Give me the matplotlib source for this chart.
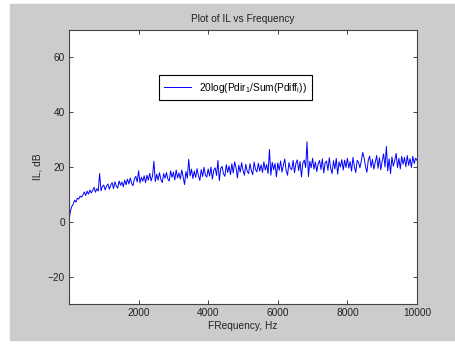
import numpy as np
import matplotlib
matplotlib.use('Agg')
import matplotlib.pyplot as plt
from matplotlib.patches import Rectangle

plt.rcParams['font.family'] = ['Liberation Sans', 'DejaVu Sans']
plt.rcParams['mathtext.fontset'] = 'custom'
plt.rcParams['mathtext.rm'] = 'Liberation Sans'
plt.rcParams['mathtext.it'] = 'Liberation Sans'
plt.rcParams['mathtext.default'] = 'regular'

# frequency grid, Hz (40 Hz step)
freq = np.arange(0, 10001, 40)

# IL values in dB (one row = 400 Hz)
il_db = [
    0.5, 3.8, 5.6, 6.4, 7.9, 7.2, 8.6, 8.3, 9.4, 9.0,
    9.8, 10.9, 9.6, 11.2, 10.1, 11.6, 10.5, 11.4, 12.6, 10.8,
    12.1, 11.2, 17.6, 11.3, 12.9, 13.4, 11.6, 13.1, 13.8, 11.9,
    13.4, 14.3, 12.1, 14.6, 13.0, 12.3, 14.9, 13.3, 14.5, 12.8,
    15.2, 13.5, 15.6, 13.8, 16.0, 14.0, 13.2, 15.7, 16.6, 14.5,
    18.6, 14.2, 16.3, 14.8, 16.8, 14.3, 17.0, 15.2, 17.7, 14.9,
    16.7, 22.1, 14.7, 17.4, 15.2, 17.9, 15.5, 14.3, 17.6, 15.9,
    18.0, 15.6, 14.9, 18.6, 16.2, 18.1, 15.3, 18.9, 16.0, 17.8,
    15.6, 18.9, 16.4, 13.6, 18.3, 15.9, 22.8, 16.7, 19.2, 15.8,
    18.5, 16.2, 19.4, 16.8, 15.1, 19.1, 16.5, 19.9, 17.0, 16.3,
    19.3, 16.7, 20.0, 15.6, 18.8, 19.7, 16.9, 22.4, 15.0, 19.5,
    20.2, 17.5, 16.6, 20.9, 18.0, 20.4, 17.2, 21.2, 17.8, 21.9,
    19.8, 16.0, 20.7, 18.1, 21.6, 18.8, 17.0, 21.0, 18.4, 17.6,
    21.2, 18.7, 17.2, 21.8, 19.1, 18.2, 21.4, 18.5, 20.8, 18.0,
    21.9, 18.9, 20.9, 17.6, 26.4, 17.0, 21.7, 19.0, 21.3, 16.4,
    21.5, 18.8, 22.2, 18.1, 20.7, 22.9, 18.6, 17.0, 21.6, 19.6,
    19.0, 22.4, 17.9, 21.3, 22.6, 18.7, 22.0, 16.4, 21.4, 22.5,
    19.8, 29.2, 16.5, 22.1, 19.7, 23.2, 19.2, 21.8, 18.3, 21.2,
    22.4, 19.1, 23.0, 17.8, 21.5, 22.2, 18.8, 23.4, 19.5, 17.6,
    22.3, 19.3, 23.1, 17.4, 21.9, 20.0, 22.7, 18.9, 22.5, 19.8,
    23.2, 19.6, 22.0, 18.5, 23.5, 20.1, 18.0, 22.4, 21.7, 19.7,
    22.2, 25.3, 23.3, 20.2, 18.1, 22.5, 24.0, 19.9, 22.8, 19.2,
    21.8, 24.2, 19.5, 23.4, 19.0, 22.3, 24.8, 20.0, 27.5, 18.6,
    23.0, 17.6, 23.7, 20.3, 22.4, 25.0, 19.8, 23.2, 19.3, 23.9,
    21.0, 23.5, 20.1, 24.2, 20.6, 23.1, 19.8, 23.9, 21.3, 23.2,
    22.4,
]

xticks = [2000, 4000, 6000, 8000, 10000]
yticks = [-20, 0, 20, 40, 60]

fs = 7.3
fig = plt.figure(figsize=(4.56, 3.45), dpi=100)
fig.patch.set_facecolor('white')
# MATLAB-style grey figure area
fig.add_artist(Rectangle((10 / 456, 5 / 345), 446 / 456, 336 / 345,
                         transform=fig.transFigure, color='#cccccc', zorder=-10))

ax = fig.add_axes([69 / 456, 1 - 304 / 345, 348 / 456, 274 / 345])
ax.set_facecolor('white')
ax.plot(freq, il_db, color='#0000ff', lw=0.7,
        label=r'20log(Pdir$_{1}$/Sum(Pdiff$_{i}$))')

ax.set_xlim(0, 10000)
ax.set_ylim(-30, 70)
ax.set_xticks(xticks)
ax.set_yticks(yticks)
ax.tick_params(direction='in', length=3, width=0.6, top=True, right=True,
               labelsize=fs, colors='#222222', pad=3)
for s in ax.spines.values():
    s.set_color('#444444')
    s.set_linewidth(0.8)

ax.set_title('Plot of IL vs Frequency', fontsize=fs, color='#222222', pad=6)
ax.set_xlabel('FRequency, Hz', fontsize=fs, color='#222222', labelpad=2)
ax.set_ylabel('IL, dB', fontsize=fs, color='#222222', labelpad=4)

leg = ax.legend(loc='center', bbox_to_anchor=(0.479, 0.79), fontsize=fs,
                fancybox=False, framealpha=1, edgecolor='black',
                handlelength=2.6, handletextpad=0.8, borderpad=0.5)
leg.get_frame().set_linewidth(0.8)

fig.savefig('out.png', dpi=100)
